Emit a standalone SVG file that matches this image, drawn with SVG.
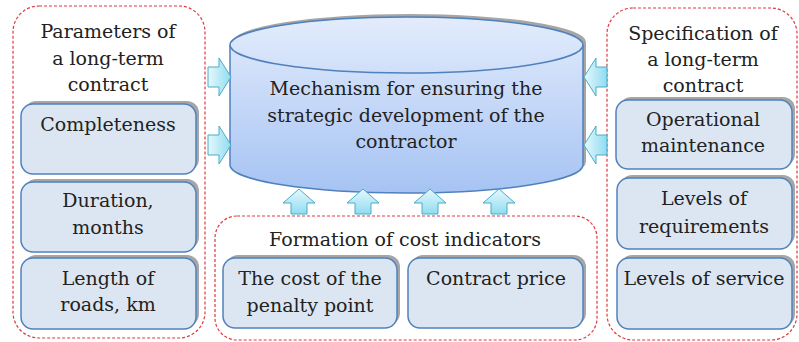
<svg xmlns="http://www.w3.org/2000/svg" width="799" height="342" viewBox="0 0 799 342">
<defs>
<linearGradient id="cyl" x1="0" y1="0" x2="0" y2="1">
<stop offset="0" stop-color="#e3ecfc"/>
<stop offset="1" stop-color="#a6c3f3"/>
</linearGradient>
<linearGradient id="arr" x1="0" y1="0" x2="0" y2="1">
<stop offset="0" stop-color="#e6f8fd"/>
<stop offset="1" stop-color="#8fdcf1"/>
</linearGradient>
<linearGradient id="arrh" x1="0" y1="0" x2="1" y2="0">
<stop offset="0" stop-color="#e6f8fd"/>
<stop offset="1" stop-color="#8fdcf1"/>
</linearGradient>
</defs>
<style>
.grp{fill:none;stroke:#e0393e;stroke-width:1.2;stroke-dasharray:3 2}
.box{fill:#dce6f2;stroke:#4f81bd;stroke-width:1.5}
.sh{fill:#a6a6a6}
text{font-family:"DejaVu Serif","Liberation Serif",serif;font-size:19px;fill:#222;text-anchor:middle}
.ar{stroke:#4bacc6;stroke-width:1}
</style>
<rect width="799" height="342" fill="#fff"/>

<g id="group-parameters">
<rect class="grp" x="13" y="6" width="192" height="332" rx="26"/>
<text x="108" y="38">Parameters of</text>
<text x="108" y="65">a long-term</text>
<text x="108" y="91">contract</text>
</g>
<g id="node-completeness">
<rect class="sh" x="24" y="101" width="175" height="70" rx="12"/>
<rect class="box" x="21" y="104" width="175" height="70" rx="12"/>
<text x="108" y="131">Completeness</text>
</g>
<g id="node-duration">
<rect class="sh" x="24" y="179" width="175" height="70" rx="12"/>
<rect class="box" x="21" y="182" width="175" height="70" rx="12"/>
<text x="108" y="207">Duration,</text>
<text x="108" y="234">months</text>
</g>
<g id="node-length">
<rect class="sh" x="24" y="255" width="175" height="71" rx="12"/>
<rect class="box" x="21" y="258" width="175" height="71" rx="12"/>
<text x="108" y="285">Length of</text>
<text x="108" y="311">roads, km</text>
</g>

<g id="node-mechanism">
<path class="sh" d="M233,42 A176.5,28 0 0 1 586,42 L586,162 A176.5,28 0 0 1 233,162 Z"/>
<path d="M230,45 A176.5,28 0 0 1 583,45 L583,165 A176.5,28 0 0 1 230,165 Z" fill="url(#cyl)" stroke="#4f81bd" stroke-width="1.5"/>
<path d="M230,45 A176.5,28 0 0 0 583,45" fill="none" stroke="#4f81bd" stroke-width="1.5"/>
<text x="406" y="95">Mechanism for ensuring the</text>
<text x="406" y="122">strategic development of the</text>
<text x="406" y="148">contractor</text>
</g>

<g id="group-cost">
<rect class="grp" x="215" y="216" width="382" height="124" rx="22"/>
<text x="405" y="246">Formation of cost indicators</text>
</g>
<g id="node-penalty">
<rect class="sh" x="226" y="255" width="174" height="70" rx="12"/>
<rect class="box" x="223" y="258" width="174" height="70" rx="12"/>
<text x="310" y="285">The cost of the</text>
<text x="310" y="312">penalty point</text>
</g>
<g id="node-price">
<rect class="sh" x="411" y="255" width="175" height="70" rx="12"/>
<rect class="box" x="408" y="258" width="175" height="70" rx="12"/>
<text x="496" y="285">Contract price</text>
</g>

<g id="group-specification">
<rect class="grp" x="607" y="8" width="190" height="332" rx="26"/>
<text x="703" y="40">Specification of</text>
<text x="703" y="66">a long-term</text>
<text x="703" y="92">contract</text>
</g>
<g id="node-operational">
<rect class="sh" x="619" y="97" width="176" height="69" rx="12"/>
<rect class="box" x="616" y="100" width="176" height="69" rx="12"/>
<text x="703" y="126">Operational</text>
<text x="703" y="152">maintenance</text>
</g>
<g id="node-requirements">
<rect class="sh" x="620" y="175" width="175" height="71" rx="12"/>
<rect class="box" x="617" y="178" width="175" height="71" rx="12"/>
<text x="704" y="205">Levels of</text>
<text x="704" y="233">requirements</text>
</g>
<g id="node-service">
<rect class="sh" x="620" y="255" width="175" height="71" rx="12"/>
<rect class="box" x="617" y="258" width="175" height="71" rx="12"/>
<text x="704" y="285">Levels of service</text>
</g>

<g id="connectors">
<path class="ar" fill="url(#arrh)" d="M231,77 L219,58 L219,67 L208,67 L208,87 L219,87 L219,96 Z"/>
<path class="ar" fill="url(#arrh)" d="M231,145 L219,126 L219,135 L208,135 L208,155 L219,155 L219,164 Z"/>
<path class="ar" fill="url(#arrh)" d="M584,77 L596,58 L596,67 L607,67 L607,87 L596,87 L596,96 Z"/>
<path class="ar" fill="url(#arrh)" d="M584,145 L596,126 L596,135 L607,135 L607,155 L596,155 L596,164 Z"/>
<path class="ar" fill="url(#arr)" d="M299,189 L315,203 L307,203 L307,214 L291,214 L291,203 L283,203 Z"/>
<path class="ar" fill="url(#arr)" d="M363,189 L379,203 L371,203 L371,214 L355,214 L355,203 L347,203 Z"/>
<path class="ar" fill="url(#arr)" d="M430,189 L446,203 L438,203 L438,214 L422,214 L422,203 L414,203 Z"/>
<path class="ar" fill="url(#arr)" d="M499,189 L515,203 L507,203 L507,214 L491,214 L491,203 L483,203 Z"/>
</g>
</svg>
